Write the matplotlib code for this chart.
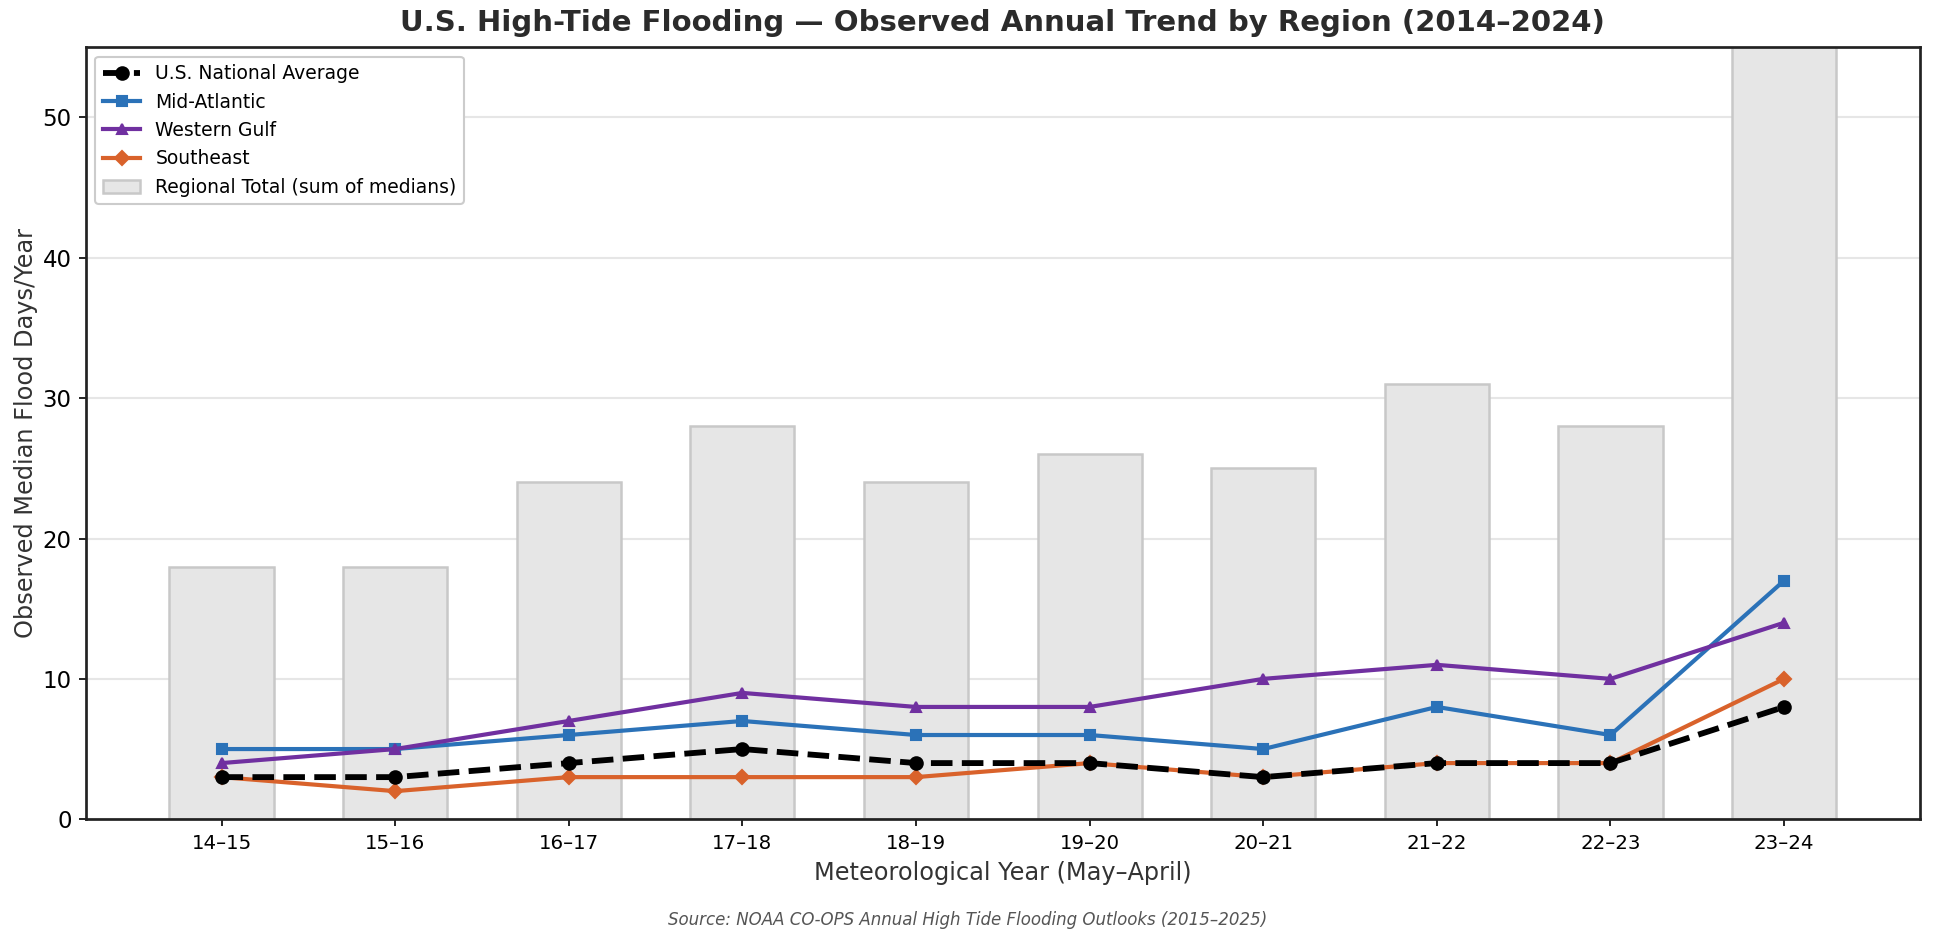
import numpy as np
import matplotlib.pyplot as plt

years = ["14–15", "15–16", "16–17", "17–18", "18–19", "19–20", "20–21", "21–22", "22–23", "23–24"]
national = [3, 3, 4, 5, 4, 4, 3, 4, 4, 8]
mid_atlantic = [5, 5, 6, 7, 6, 6, 5, 8, 6, 17]
western_gulf = [4, 5, 7, 9, 8, 8, 10, 11, 10, 14]
southeast = [3, 2, 3, 3, 3, 4, 3, 4, 4, 10]
regional_total = [18, 18, 24, 28, 24, 26, 25, 31, 28, 62]

x = np.arange(len(years))

fig, ax = plt.subplots(figsize=(12.9, 6.307), dpi=150)
fig.subplots_adjust(left=0.0445, right=0.992, top=0.950, bottom=0.134)

ax.plot(x, national, "--o", color="black", lw=2.8, ms=6, label="U.S. National Average", zorder=4)
ax.plot(x, mid_atlantic, "-s", color="#2b72b8", lw=2, ms=5, label="Mid-Atlantic", zorder=3)
ax.plot(x, western_gulf, "-^", color="#7030a0", lw=2, ms=5, label="Western Gulf", zorder=3)
ax.plot(x, southeast, "-D", color="#d9622b", lw=2, ms=4.5, label="Southeast", zorder=3)
ax.bar(x, regional_total, width=0.6, color="#e6e6e6", edgecolor="#c8c8c8",
       linewidth=1.2, label="Regional Total (sum of medians)", zorder=1)

ax.set_ylim(0, 55)
ax.set_xticks(x)
ax.set_xticklabels(years, fontsize=9.5)
ax.tick_params(axis="y", labelsize=11)
ax.grid(axis="y", color="#e6e6e6", lw=1, zorder=0)
ax.set_axisbelow(True)
for s in ax.spines.values():
    s.set_color("#222222")
    s.set_linewidth(1.3)

ax.set_xlabel("Meteorological Year (May–April)", fontsize=11.5, color="#333333")
ax.set_ylabel("Observed Median Flood Days/Year", fontsize=11.5, color="#333333", labelpad=2)
ax.set_title("U.S. High-Tide Flooding — Observed Annual Trend by Region (2014–2024)",
             fontsize=14, fontweight="bold", color="#2b2b2b", pad=8)

ax.legend(loc="upper left", fontsize=9, framealpha=1, edgecolor="#cccccc")

fig.text(0.5, 0.022, "Source: NOAA CO-OPS Annual High Tide Flooding Outlooks (2015–2025)",
         ha="center", fontsize=8, style="italic", color="#555555")

fig.savefig("out.png", dpi=150)
